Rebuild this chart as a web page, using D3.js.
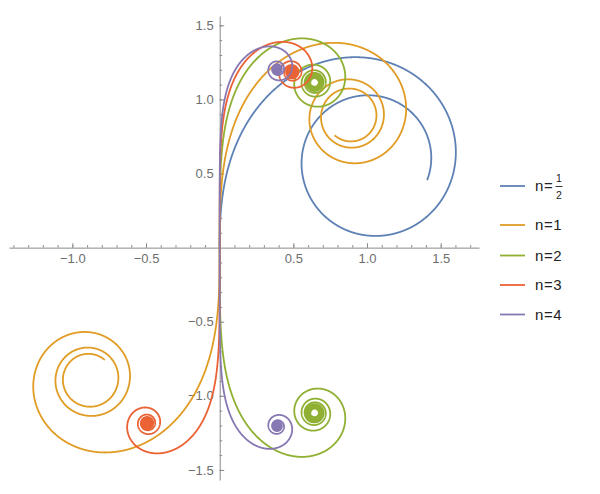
<!DOCTYPE html>
<head>
  <meta charset="utf-8">
  <script src="https://d3js.org/d3.v7.min.js"></script>
  <style>
    body { margin: 0; background: white; }
    text { font-family: "Liberation Sans", Arial, sans-serif; }
    .axis path, .axis line { stroke: #8a8a8a; }
    .axis text { fill: #6e6e6e; font-size: 13px; }
    path.curve { fill: none; stroke-width: 1.8; stroke-linejoin: round; }
  </style>
</head>
<body>
<script>
// generalized Fresnel spirals  x = ∫ sin(s^(n+1)/(n+1)) ds,  y = ∫ cos(s^(n+1)/(n+1)) ds
const nValues = [0.5, 1, 2, 3, 4]
const nLabels = [['1', '2'], '1', '2', '3', '4']
const tRange = [-6, 6]
const colors = ['#5E81B5', '#E09C24', '#8FB032', '#EB6235', '#8778B3']

const xMajor = [-1, -0.5, 0.5, 1, 1.5]
const yMajor = [-1.5, -1, -0.5, 0.5, 1, 1.5]

const width = 600, height = 494

const x = d3.scaleLinear().domain([-1.43, 1.76]).range([9, 479])
const y = d3.scaleLinear().domain([-1.568, 1.563]).range([480, 16])

const svg = d3.select('body').append('svg')
  .attr('width', width).attr('height', height)

// integrate one side of the curve (from 0 towards tEnd), keep points that move on screen
function side (n, tEnd) {
  const p = n + 1
  const h = 0.0001 * Math.sign(tEnd)
  const steps = Math.round(Math.abs(tEnd / h))
  let sx = 0, sy = 0
  const pts = [[0, 0]]
  let last = [x(0), y(0)]
  for (let i = 0; i < steps; i++) {
    const s = (i + 0.5) * h
    const ph = Math.pow(s, p) / p
    sx += Math.sin(ph) * h
    sy += Math.cos(ph) * h
    const px = x(sx), py = y(sy)
    if (Math.hypot(px - last[0], py - last[1]) > 0.35 || i === steps - 1) {
      pts.push([sx, sy])
      last = [px, py]
    }
  }
  return pts
}

const line = d3.line().x(d => x(d[0])).y(d => y(d[1]))

// axes
const x0 = y(0), y0 = x(0)
svg.append('g').attr('class', 'axis')
  .attr('transform', `translate(0,${x0})`)
  .call(d3.axisBottom(x).tickValues(d3.range(-14, 18).map(d => d / 10).filter(d => Math.abs(d) > 1e-9))
    .tickSizeInner(-2.5).tickSizeOuter(0).tickFormat(''))
svg.append('g').attr('class', 'axis')
  .attr('transform', `translate(0,${x0})`)
  .call(d3.axisBottom(x).tickValues(xMajor).tickSizeInner(-4.5).tickSizeOuter(0)
    .tickPadding(6).tickFormat(d3.format('.1f')))
  .select('.domain').remove()

svg.append('g').attr('class', 'axis')
  .attr('transform', `translate(${y0},0)`)
  .call(d3.axisLeft(y).tickValues(d3.range(-15, 16).map(d => d / 10).filter(d => Math.abs(d) > 1e-9))
    .tickSizeInner(-2.5).tickSizeOuter(0).tickFormat(''))
svg.append('g').attr('class', 'axis')
  .attr('transform', `translate(${y0},0)`)
  .call(d3.axisLeft(y).tickValues(yMajor).tickSizeInner(-4.5).tickSizeOuter(0)
    .tickPadding(6).tickFormat(d3.format('.1f')))
  .select('.domain').remove()

// curves
nValues.forEach((n, i) => {
  const pos = side(n, tRange[1])
  let pts = pos
  if (Number.isInteger(n)) {
    const neg = side(n, tRange[0])
    pts = neg.reverse().concat(pos.slice(1))
  }
  svg.append('path').attr('class', 'curve')
    .attr('stroke', colors[i])
    .attr('d', line(pts))
})

// legend
const leg = svg.append('g').attr('transform', 'translate(500,186)')
const rowY = [0, 39, 69.5, 99, 128.5]
nValues.forEach((n, i) => {
  const g = leg.append('g').attr('transform', `translate(0,${rowY[i]})`)
  g.append('line').attr('x1', 0).attr('x2', 25)
    .attr('stroke', colors[i]).attr('stroke-width', 1.8)
  g.append('text').attr('x', 35).attr('dy', '0.36em')
    .attr('font-size', 15).attr('letter-spacing', 0.6).attr('fill', '#222')
    .text('n=' + (Array.isArray(nLabels[i]) ? '' : nLabels[i]))
  if (Array.isArray(nLabels[i])) {
    g.append('text').attr('x', 59).attr('y', -4).attr('text-anchor', 'middle')
      .attr('font-size', 10.5).attr('fill', '#222').text(nLabels[i][0])
    g.append('line').attr('x1', 55.5).attr('x2', 62.5).attr('y1', 0.5).attr('y2', 0.5)
      .attr('stroke', '#222').attr('stroke-width', 0.9)
    g.append('text').attr('x', 59).attr('y', 13).attr('text-anchor', 'middle')
      .attr('font-size', 10.5).attr('fill', '#222').text(nLabels[i][1])
  }
})
</script>
</body>
